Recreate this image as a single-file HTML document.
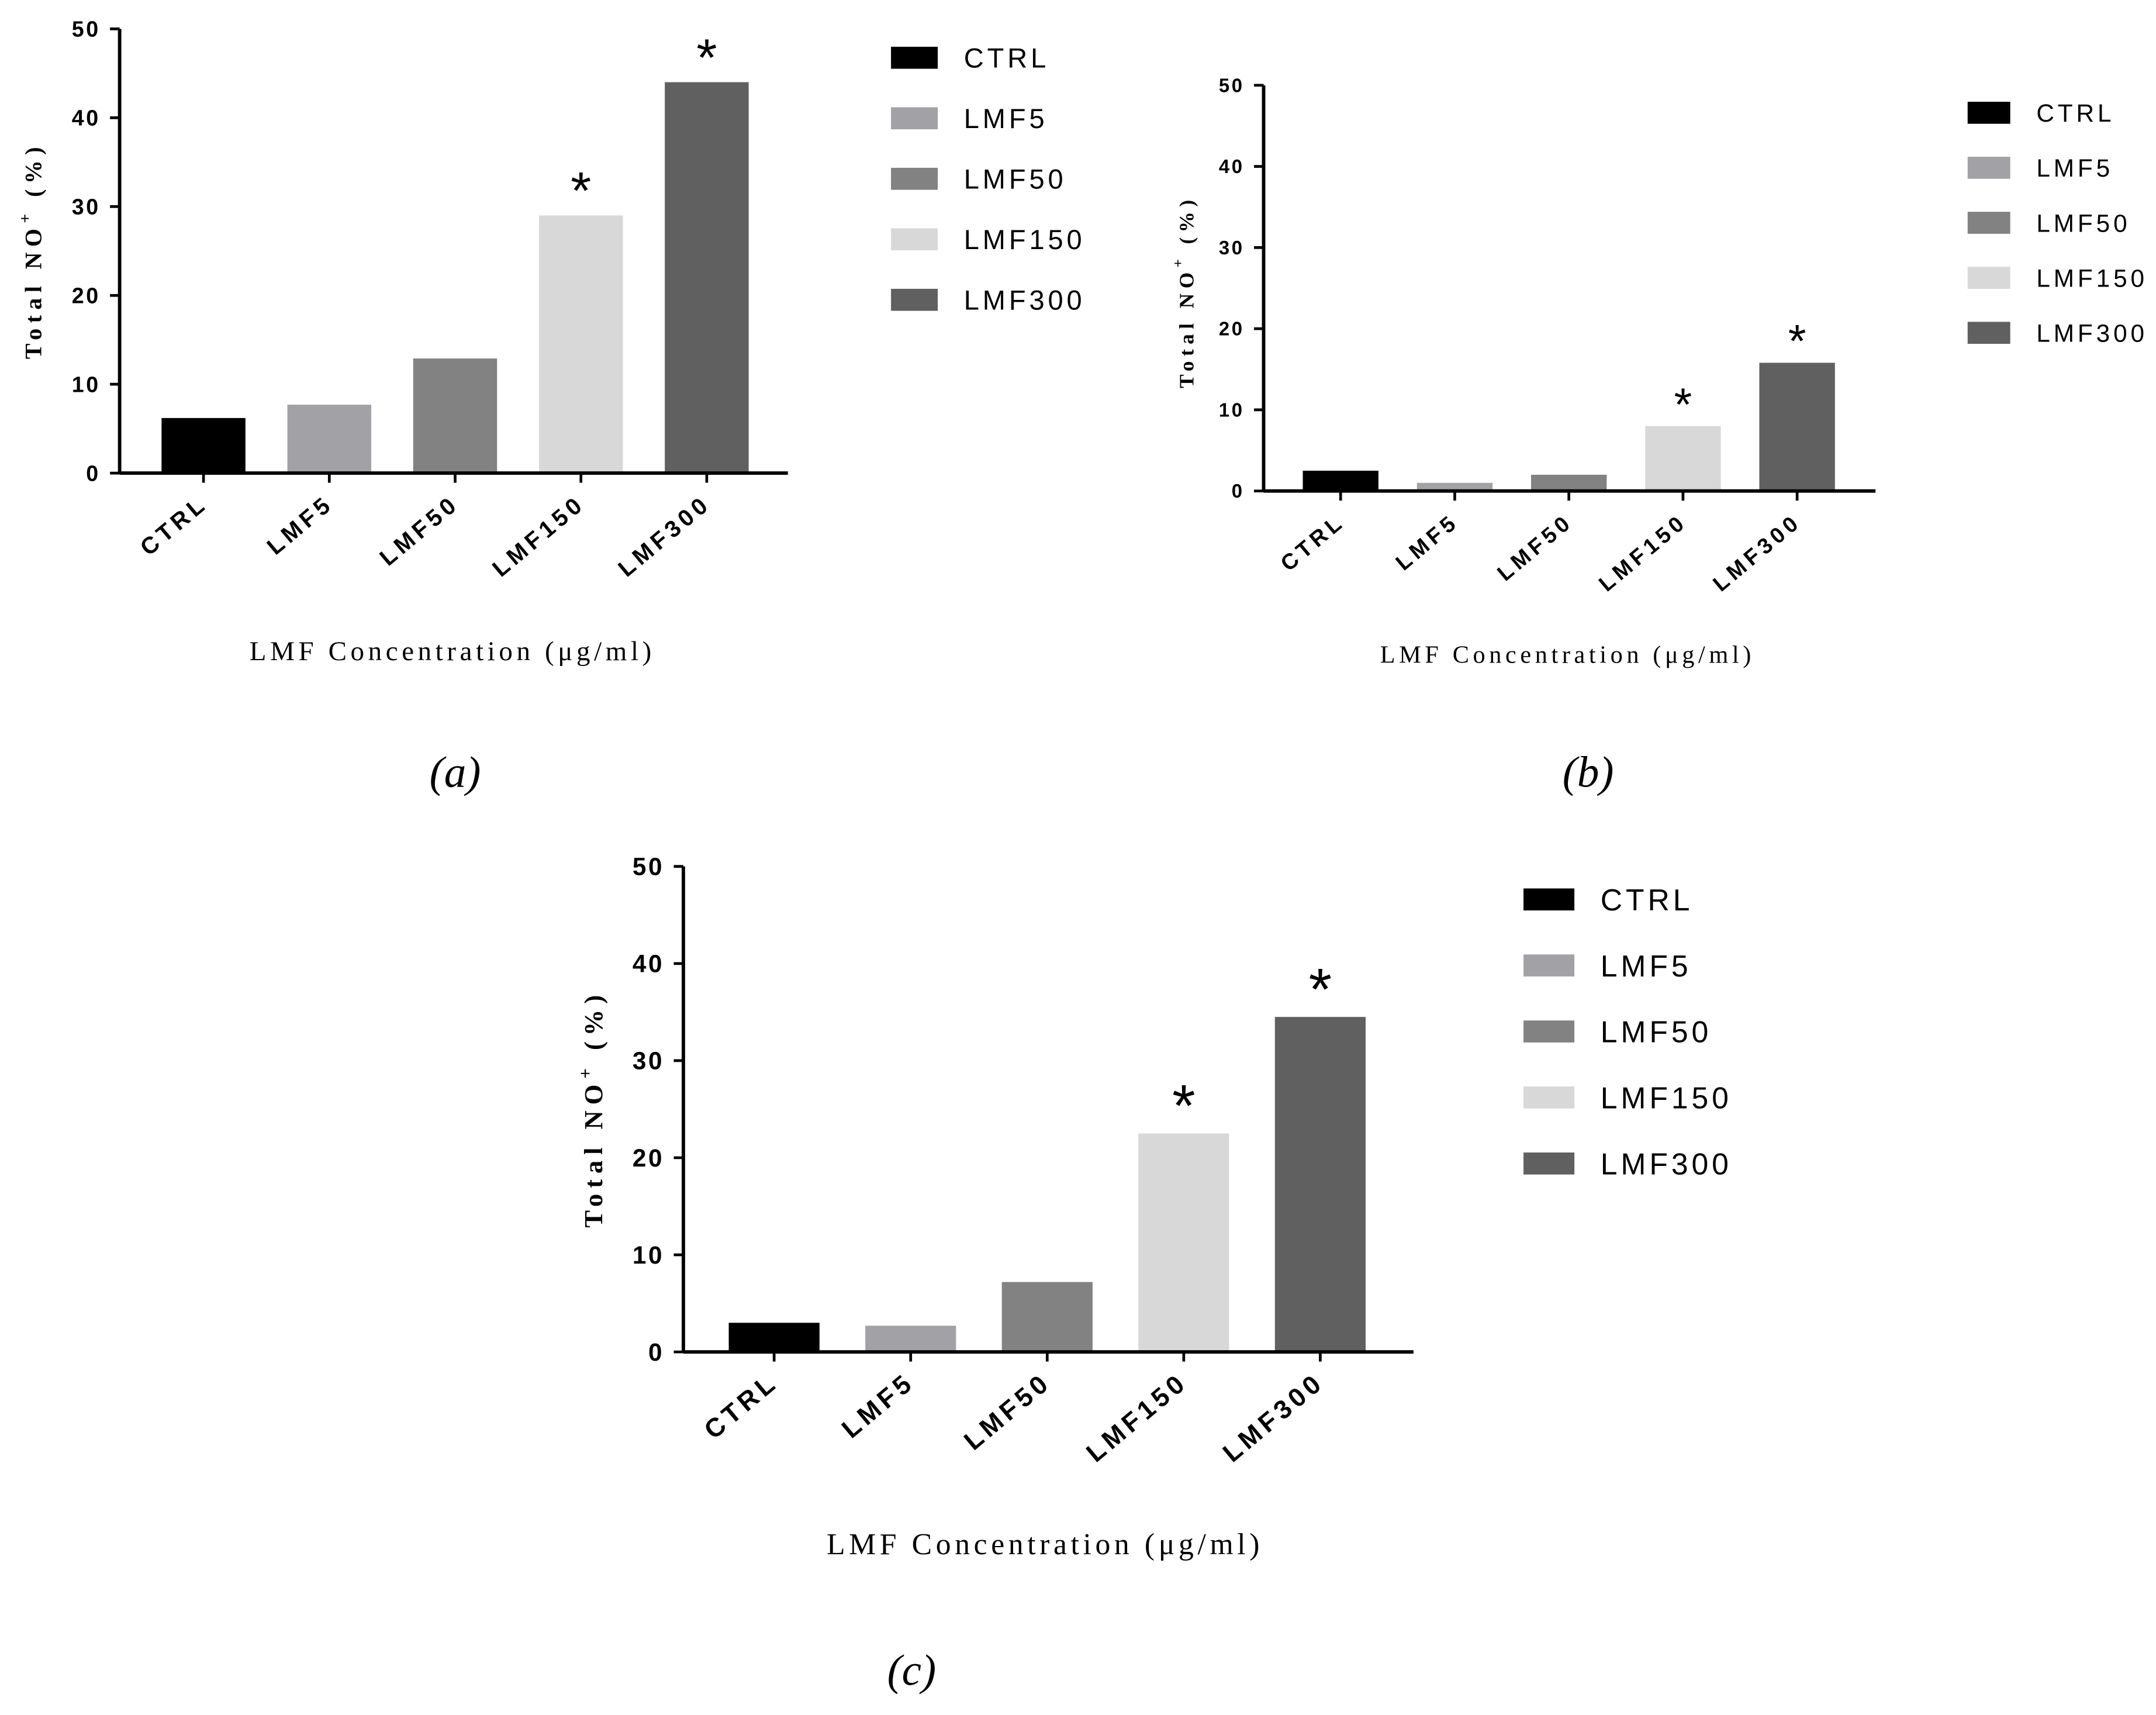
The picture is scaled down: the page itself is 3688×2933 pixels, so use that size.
<!DOCTYPE html>
<html><head><meta charset="utf-8"><style>
html,body{margin:0;padding:0;background:#fff;}
svg{display:block;}
text{font-family:"Liberation Sans",sans-serif;}
.serif{font-family:"Liberation Serif",serif;}
</style></head><body>
<svg id="fig" width="3688" height="2933" viewBox="0 0 1568 1247" xmlns="http://www.w3.org/2000/svg"></svg>
<script>
const categories = ["CTRL","LMF5","LMF50","LMF150","LMF300"];
const colors = ["#000000","#a2a2a6","#828282","#d8d8d8","#606060"];
const valuesA = [6.2, 7.7, 12.9, 29.0, 44.0];
const valuesB = [2.5, 1.0, 2.0, 8.0, 15.8];
const valuesC = [3.0, 2.7, 7.2, 22.5, 34.5];
const starsA = [false,false,false,true,true];
const starsB = [false,false,false,true,true];
const starsC = [false,false,false,true,true];
const yTicks = [0,10,20,30,40,50];
const yMax = 50;

const NS="http://www.w3.org/2000/svg";
const svg=document.getElementById('fig');
function mk(tag,attrs,parent,txt){const e=document.createElementNS(NS,tag);for(const k in attrs)e.setAttribute(k,attrs[k]);if(txt!==undefined)e.textContent=txt;(parent||svg).appendChild(e);return e;}

function panel(cfg,values,stars){
  const g=mk('g',{});
  
  
  const y=v=>cfg.y0-(v/yMax)*(cfg.y0-cfg.y50);
  const x=i=>cfg.ax+cfg.first+i*cfg.step;
  values.forEach((v,i)=>{
    const r=mk('rect',{x:x(i)-cfg.bw/2,y:y(v),width:cfg.bw,height:cfg.y0-y(v),fill:colors[i]},g);
    
    
    if(stars[i]){
      const s=mk('text',{x:x(i),y:y(v)-cfg.fs*0.3,'text-anchor':'middle','font-size':cfg.fs*2.4},g,'*');
      
      
    }
    mk('line',{x1:x(i),x2:x(i),y1:cfg.y0,y2:cfg.y0+7,stroke:'#000','stroke-width':2},g);
    const lx=x(i)+4, ly=cfg.y0+24;
    const t=mk('text',{x:lx,y:ly,'text-anchor':'end','font-size':cfg.xfs,'font-weight':'bold','letter-spacing':3,transform:`rotate(-40 ${lx} ${ly})`},g,categories[i]);
    
    
  });
  const ya=mk('line',{x1:cfg.ax,x2:cfg.ax,y1:cfg.y50,y2:cfg.y0,stroke:'#000','stroke-width':2.5},g);
  
  const xa=mk('line',{x1:cfg.ax,x2:cfg.xEnd,y1:cfg.y0,y2:cfg.y0,stroke:'#000','stroke-width':2.5},g);
  
  yTicks.forEach(v=>{
    mk('line',{x1:cfg.ax-7,x2:cfg.ax,y1:y(v),y2:y(v),stroke:'#000','stroke-width':2},g);
    const t=mk('text',{x:cfg.ax-14,y:y(v)+cfg.fs*0.35,'text-anchor':'end','font-size':cfg.fs,'font-weight':'bold','letter-spacing':1.5},g,String(v));
    
  });
  const yt=mk('text',{x:cfg.ytx,y:cfg.yty,'text-anchor':'middle','font-size':cfg.yfs,'font-weight':'bold','letter-spacing':cfg.yls,class:'serif',transform:`rotate(-90 ${cfg.ytx} ${cfg.yty})`},g);
  
  mk('tspan',{},yt,'Total NO');
  mk('tspan',{dy:-8,'font-size':cfg.yfs*0.7},yt,'+');
  mk('tspan',{dy:8},yt,' (%)');
  const xt=mk('text',{x:cfg.xtx,y:cfg.xty,'text-anchor':'middle','font-size':cfg.fs+4,'letter-spacing':2.8,class:'serif'},g,'LMF Concentration (μg/ml)');
  
  categories.forEach((c,i)=>{
    const ly=cfg.lgy+i*cfg.lgs;
    const sw=mk('rect',{x:cfg.lgx,y:ly-8,width:cfg.lgw,height:16,fill:colors[i]},g);
    
    const lt=mk('text',{x:cfg.lgx+cfg.lgw+19,y:ly+cfg.lfs*0.36,'font-size':cfg.lfs,'letter-spacing':2.5},g,c);
    
  });
  const pl=mk('text',{x:cfg.plx,y:cfg.ply,'text-anchor':'middle','font-size':32,'font-style':'italic',class:'serif'},g,'('+cfg.id+')');
  
}

panel({id:'a',ax:87,xEnd:573,y0:344,y50:21,first:61,step:91.5,bw:61,fs:16,xfs:17,yfs:17,yls:4,ytx:30,yty:182,xtx:329,xty:480,lgx:648,lgw:34,lgy:42,lgs:44,lfs:20,plx:331,ply:572},valuesA,starsA);
panel({id:'b',ax:919,xEnd:1364,y0:357,y50:62,first:56,step:83,bw:55,fs:14,xfs:16,yfs:15,yls:3.6,ytx:868,yty:212,xtx:1140,xty:482,lgx:1431,lgw:31,lgy:82,lgs:40,lfs:18,plx:1155,ply:572},valuesB,starsB);
panel({id:'c',ax:497,xEnd:1028,y0:983,y50:630,first:66,step:99.3,bw:66,fs:18,xfs:19,yfs:19,yls:4.2,ytx:438,yty:806,xtx:760,xty:1130,lgx:1108,lgw:37,lgy:654,lgs:48,lfs:22,plx:663,ply:1225},valuesC,starsC);
</script>
</body></html>
